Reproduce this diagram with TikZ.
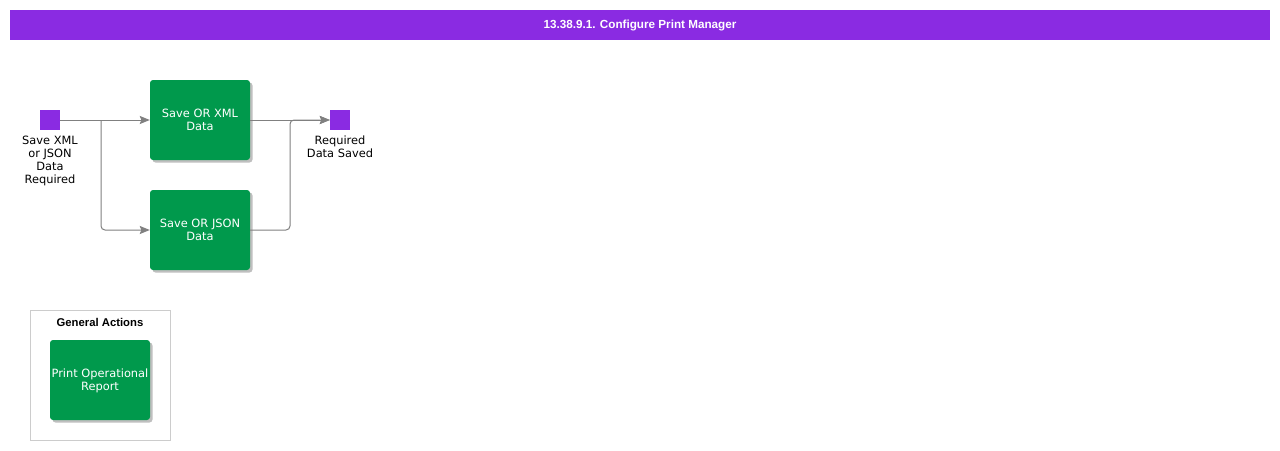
\documentclass[tikz,border=0pt]{standalone}
\usepackage{fontspec}
\setmainfont{DejaVu Sans}
\newfontfamily\titlefont{Liberation Sans}
\usetikzlibrary{arrows.meta,shadows}
\definecolor{purp}{HTML}{8A2BE2}
\definecolor{grn}{HTML}{00994C}
\definecolor{conn}{HTML}{808080}
\definecolor{frame}{HTML}{CCCCCC}
\tikzset{
  task/.style={fill=grn, rounded corners=3pt, minimum width=100pt, minimum height=80pt,
    text=white, align=center, font=\fontsize{11.4}{13}\selectfont, inner sep=0pt, text depth=0pt,
    drop shadow={shadow xshift=2.5pt, shadow yshift=-2.5pt, fill=black, opacity=0.25}},
  evt/.style={fill=purp, minimum width=20pt, minimum height=20pt, inner sep=0pt},
  lbl/.style={align=center, font=\fontsize{11.4}{13}\selectfont, text=black, inner sep=0pt},
  link/.style={draw=conn, line width=1pt, -{Stealth[length=10pt,width=8pt,inset=1.5pt]}, rounded corners=4pt},
}
\begin{document}
\begin{tikzpicture}[x=1pt,y=-1pt]
\useasboundingbox (0,0) rectangle (1280,450);
\fill[white] (0,0) rectangle (1280,450);
\node[fill=purp, minimum width=1260pt, minimum height=30pt, inner sep=0pt, text=white,
  font=\titlefont\bfseries\fontsize{11.7}{13}\selectfont] (title) at (640,25) {13.38.9.1. Configure Print Manager};
\node[evt] (start) at (50,120) {};
\node[lbl, anchor=north] (startl) at (50,136) {Save XML\\or JSON\\Data\\Required};
\node[task] (t1) at (200,120) {Save OR XML\\Data};
\node[task] (t2) at (200,230) {Save OR JSON\\Data};
\node[evt] (end) at (340,120) {};
\node[lbl, anchor=north] (endl) at (340,136) {Required\\Data Saved};
\coordinate (b1) at (101,120);
\coordinate (b2) at (290,120);
\draw[link] (start) -- (t1);
\draw[link] (b1) |- (t2);
\draw[link] (t1) -- (end);
\draw[link] (t2.east) -| (b2) -- (end);
\node[draw=frame, line width=0.8pt, minimum width=140pt, minimum height=130pt, inner sep=0pt] (ga) at (100,375) {};
\node[font=\titlefont\bfseries\fontsize{11.3}{13}\selectfont, anchor=north] (gal) at (100,315) {General Actions};
\node[task] (t3) at (100,380) {Print Operational\\Report};
\end{tikzpicture}
\end{document}
